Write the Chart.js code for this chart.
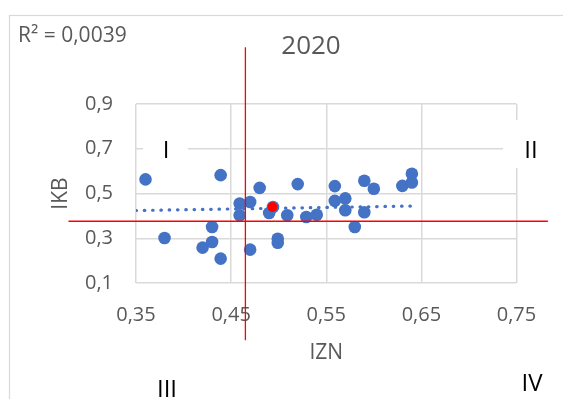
<!DOCTYPE html>
<html>
<head>
<meta charset="utf-8">
<script src="https://cdn.jsdelivr.net/npm/chart.js@4"></script>
<style>
    html, body { margin: 0; padding: 0; background: #fff; }
    #chart { display: block; }
</style>
</head>
<body>
<canvas id="chart" width="563" height="399"></canvas>
<script>
// values
const izn = [0.360, 0.380, 0.420, 0.430, 0.430, 0.439, 0.439, 0.459, 0.459, 0.470, 0.470, 0.480, 0.490, 0.494,
    0.499, 0.499, 0.509, 0.520, 0.529, 0.540, 0.559, 0.559, 0.570, 0.570, 0.580, 0.590, 0.590, 0.600, 0.630, 0.640, 0.640];
const ikb = [0.563, 0.301, 0.258, 0.283, 0.350, 0.582, 0.209, 0.455, 0.403, 0.462, 0.249, 0.525, 0.413, 0.440,
    0.298, 0.280, 0.403, 0.542, 0.395, 0.405, 0.533, 0.467, 0.478, 0.425, 0.350, 0.557, 0.416, 0.521, 0.534, 0.588, 0.549];
const meanIzn = [0.4935];
const meanIkb = [0.440];
const trendIzn = [0.35, 0.64];
const trendIkb = [0.424, 0.444];
const crossVIzn = [0.465, 0.465];
const crossVIkb = [1.154, -0.156];
const crossHIzn = [0.279, 0.783];
const crossHIkb = [0.376, 0.376];
const xTicks = [0.35, 0.45, 0.55, 0.65, 0.75];
const xTickLabels = ['0,35', '0,45', '0,55', '0,65', '0,75'];
const yTicks = [0.1, 0.3, 0.5, 0.7, 0.9];
const yTickLabels = ['0,1', '0,3', '0,5', '0,7', '0,9'];
const quadrantLabels = ['I', 'II', 'III', 'IV'];
const chartTitle = '2020';
const rSquaredText = 'R\u00B2 = 0,0039';

const FONT = "'Open Sans', sans-serif";
const GREY_TEXT = '#595959';
const GRID = '#d9d9d9';
const BLUE = '#4472C4';

function toPoints(xs, ys) {
    return xs.map((x, i) => ({x: x, y: ys[i]}));
}

const decorPlugin = {
    id: 'decor',
    beforeDraw(chart) {
        const ctx = chart.ctx;
        ctx.save();
        ctx.fillStyle = '#fff';
        ctx.fillRect(0, 0, chart.width, chart.height);
        ctx.strokeStyle = GRID;
        ctx.lineWidth = 1.2;
        ctx.strokeRect(9.5, 15.5, 700, 500);

        ctx.fillStyle = GREY_TEXT;
        ctx.textBaseline = 'middle';
        ctx.font = '21px ' + FONT;
        ctx.textAlign = 'left';
        ctx.fillText(rSquaredText, 18, 36);
        ctx.font = '26px ' + FONT;
        ctx.textAlign = 'center';
        ctx.fillText(chartTitle, 311, 47);
        ctx.restore();
    },
    beforeDatasetsDraw(chart) {
        const ctx = chart.ctx;
        ctx.save();
        ctx.fillStyle = '#fff';
        ctx.fillRect(143, 126, 45, 48);
        ctx.fillRect(503, 120, 52, 48);
        ctx.fillStyle = '#000';
        ctx.font = '24px ' + FONT;
        ctx.textAlign = 'center';
        ctx.textBaseline = 'middle';
        ctx.fillText(quadrantLabels[0], 166, 151);
        ctx.fillText(quadrantLabels[1], 531, 151);
        ctx.fillText(quadrantLabels[2], 167, 390);
        ctx.fillText(quadrantLabels[3], 532, 384);
        ctx.restore();
    }
};

new Chart(document.getElementById('chart'), {
    type: 'scatter',
    data: {
        datasets: [
            {
                type: 'line', data: toPoints(crossVIzn, crossVIkb), showLine: true, clip: false,
                borderColor: '#ff0000', borderWidth: 1.3, pointRadius: 0, order: 0
            },
            {
                type: 'line', data: toPoints(crossHIzn, crossHIkb), showLine: true, clip: false,
                borderColor: '#ff0000', borderWidth: 1.3, pointRadius: 0, order: 0
            },
            {
                data: toPoints(meanIzn, meanIkb), backgroundColor: '#ff0000', borderWidth: 0,
                pointRadius: 5, order: 1
            },
            {
                type: 'line', data: toPoints(trendIzn, trendIkb), showLine: true,
                borderColor: BLUE, borderWidth: 3.2, borderDash: [0.5, 7.8], borderCapStyle: 'round',
                pointRadius: 0, order: 2
            },
            {
                data: toPoints(izn, ikb), backgroundColor: BLUE, borderWidth: 0,
                pointRadius: 6.3, order: 3
            }
        ]
    },
    options: {
        responsive: false,
        animation: false,
        layout: {padding: {top: 104, right: 46.5, left: 0, bottom: 0}},
        plugins: {legend: {display: false}, tooltip: {enabled: false}},
        scales: {
            x: {
                type: 'linear', min: 0.35, max: 0.75,
                afterBuildTicks: scale => { scale.ticks = xTicks.map(v => ({value: v})); },
                afterFit: scale => { scale.height = 116; },
                ticks: {
                    padding: 20, color: GREY_TEXT, font: {family: FONT, size: 20},
                    callback: (v, i) => xTickLabels[i]
                },
                grid: {color: GRID, lineWidth: 1.5, drawTicks: false},
                border: {display: false},
                title: {
                    display: true, text: 'IZN', color: GREY_TEXT,
                    font: {family: FONT, size: 21, lineHeight: 1.2}, padding: {top: 0, bottom: 33.4}
                }
            },
            y: {
                type: 'linear', min: 0.1, max: 0.9,
                afterBuildTicks: scale => { scale.ticks = yTicks.map(v => ({value: v})); },
                afterFit: scale => { scale.width = 136; },
                ticks: {
                    padding: 23, color: GREY_TEXT, font: {family: FONT, size: 20},
                    callback: (v, i) => yTickLabels[i]
                },
                grid: {color: GRID, lineWidth: 1.5, drawTicks: false},
                border: {display: false},
                title: {
                    display: true, text: 'IKB', color: GREY_TEXT,
                    font: {family: FONT, size: 21, lineHeight: 1.2}, padding: {top: 48.4, bottom: 0}
                }
            }
        }
    },
    plugins: [decorPlugin]
});
</script>
</body>
</html>
